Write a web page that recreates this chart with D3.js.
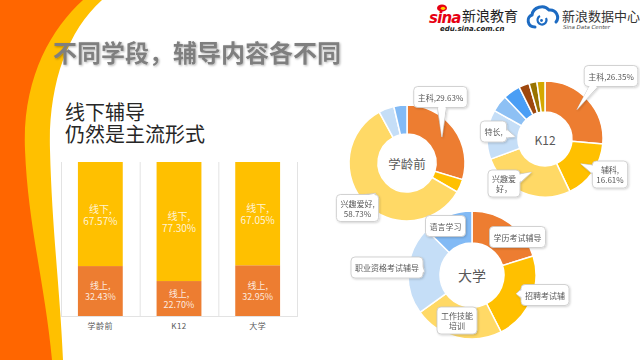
<!DOCTYPE html>
<html><head><meta charset="utf-8">
<script src="https://cdn.jsdelivr.net/npm/d3@7"></script>
<style>
html,body{margin:0;padding:0;background:#fff;}
svg{display:block;font-family:"Noto Sans CJK SC","Noto Sans",sans-serif;}
</style></head>
<body><svg id="c" width="640" height="360"></svg>
<script>
// ---------- data ----------
const barCategories = ['学龄前', 'K12', '大学'];
const seriesNames = ['线上', '线下'];
const onlineShare = [32.43, 22.70, 32.95];
const offlineShare = [67.57, 77.30, 67.05];

const preschoolValues = [29.63, 3.70, 58.73, 4.30, 3.64];
const preschoolLabels = ['主科,29.63%', '', '兴趣爱好,\n58.73%', '', ''];

const k12Values = [26.35, 16.61, 26.40, 13.80, 4.70, 4.80, 2.90, 2.20, 2.24];
const k12Labels = ['主科,26.35%', '辅科,\n16.61%', '兴趣爱\n好，', '特长,', '', '', '', '', ''];

const collegeValues = [20.2, 22.3, 22.6, 22.3, 12.6];
const collegeLabels = ['学历考试辅导', '招聘考试辅', '工作技能\n培训', '职业资格考试辅导', '语言学习'];

// ---------- styles ----------
const cOrange = '#ED7D31', cGold = '#FFC000', cLightY = '#FFD966';
const cVLBlue = '#C5DEF7', cLBlue = '#8DC0F4', cBlue = '#4A9EF5', cMBlue = '#82BAF5';
const preschoolColors = [cOrange, cGold, cLightY, cVLBlue, cMBlue];
const k12Colors = [cOrange, cGold, cLightY, cVLBlue, cLBlue, cBlue, '#9E480E', '#997300', '#D4A800'];
const collegeColors = [cOrange, cGold, cLightY, cVLBlue, cMBlue];

const svg = d3.select('#c');
const defs = svg.append('defs');
const flt = defs.append('filter').attr('id', 'sh').attr('x', '-30%').attr('y', '-30%').attr('width', '160%').attr('height', '170%');
flt.append('feDropShadow').attr('dx', 1).attr('dy', 1).attr('stdDeviation', 1).attr('flood-color', '#000').attr('flood-opacity', 0.18);
const tflt = defs.append('filter').attr('id', 'tsh').attr('x', '-5%').attr('y', '-20%').attr('width', '110%').attr('height', '150%');
tflt.append('feDropShadow').attr('dx', 1).attr('dy', 1).attr('stdDeviation', 0.8).attr('flood-color', '#000').attr('flood-opacity', 0.3);

// ---------- decoration ----------
svg.append('path').attr('d', 'M0,0 L102,0 C66,32 48,88 50,150 C52,230 60,290 63,360 L0,360 Z').attr('fill', '#FFC000');
svg.append('path').attr('d', 'M0,0 L83,0 C50,30 22,80 25,150 C28,225 45,285 52,360 L0,360 Z').attr('fill', '#FF6600');

// ---------- header logos ----------
const hd = svg.append('g');
hd.append('ellipse').attr('cx', 442).attr('cy', 8).attr('rx', 5).attr('ry', 3.6).attr('fill', '#E60012');
hd.append('ellipse').attr('cx', 443).attr('cy', 8.3).attr('rx', 2.2).attr('ry', 1.6).attr('fill', '#FFD200');
hd.append('text').attr('x', 429).attr('y', 23).attr('font-family', '"DejaVu Sans"').attr('font-weight', 'bold')
  .attr('font-style', 'italic').attr('font-size', 15).attr('fill', '#E60012').attr('letter-spacing', -0.8).text('sina');
hd.append('text').attr('x', 462).attr('y', 21).attr('font-size', 14).attr('fill', '#222').text('新浪教育');
hd.append('text').attr('x', 440).attr('y', 31).attr('font-family', '"DejaVu Sans"').attr('font-weight', 'bold')
  .attr('font-style', 'italic').attr('font-size', 7).attr('fill', '#222').text('edu.sina.com.cn');
hd.append('path').attr('d', 'M535,27 C527,27 526,17 532,15 C533,7 544,4 549,10 C556,9 560,17 556,22')
  .attr('fill', 'none').attr('stroke', '#1D6BC2').attr('stroke-width', 3).attr('stroke-linecap', 'round');
hd.append('path').attr('d', 'M546,18 A4.5,4.5 0 1 1 540,16').attr('fill', 'none').attr('stroke', '#1D6BC2').attr('stroke-width', 2.2);
hd.append('circle').attr('cx', 541.5).attr('cy', 20.5).attr('r', 1.4).attr('fill', '#1D6BC2');
hd.append('text').attr('x', 562).attr('y', 21).attr('font-size', 13).attr('fill', '#333').text('新浪数据中心');
hd.append('text').attr('x', 563).attr('y', 29).attr('font-family', '"DejaVu Sans"').attr('font-style', 'italic')
  .attr('font-size', 5.5).attr('fill', '#444').text('Sina Data Center');

// ---------- titles ----------
svg.append('text').attr('x', 53).attr('y', 51).attr('dominant-baseline', 'central').attr('font-size', 24)
  .attr('font-weight', 'bold').attr('fill', '#7F7F7F').attr('filter', 'url(#tsh)').text('不同学段，辅导内容各不同');
const sub = svg.append('text').attr('font-size', 20).attr('fill', '#262626');
sub.append('tspan').attr('x', 65).attr('y', 111).attr('dominant-baseline', 'central').text('线下辅导');
sub.append('tspan').attr('x', 65).attr('y', 133.5).attr('dominant-baseline', 'central').text('仍然是主流形式');

// ---------- bar chart ----------
const plot = { left: 61, right: 297, top: 162, bottom: 316 };
const x = d3.scaleBand().domain(barCategories).range([plot.left, plot.right]).padding(0);
const y = d3.scaleLinear().domain([0, 100]).range([plot.bottom, plot.top]);
const barW = x.bandwidth() * 0.57;
const rows = barCategories.map((c, i) => ({ cat: c, online: onlineShare[i], offline: offlineShare[i] }));
const stacked = d3.stack().keys(['online', 'offline'])(rows);
const barColors = [cOrange, cGold];

const grid = svg.append('g').attr('stroke', '#E3E3E3').attr('stroke-width', 1);
const xEdges = barCategories.map(c => x(c)).concat([plot.right]);
xEdges.forEach(v => grid.append('line').attr('x1', v + 0.5).attr('x2', v + 0.5).attr('y1', plot.top).attr('y2', plot.bottom));
grid.append('line').attr('x1', plot.left).attr('x2', plot.right + 1).attr('y1', plot.bottom + 0.5).attr('y2', plot.bottom + 0.5);

const layers = svg.append('g').selectAll('g').data(stacked).join('g').attr('fill', (d, i) => barColors[i]);
layers.selectAll('rect').data(d => d).join('rect')
  .attr('x', d => x(d.data.cat) + (x.bandwidth() - barW) / 2)
  .attr('width', barW)
  .attr('y', d => y(d[1]))
  .attr('height', d => y(d[0]) - y(d[1]));

stacked.forEach((layer, li) => {
  const fs = li === 0 ? 9 : 10, lh = li === 0 ? 11 : 12;
  layer.forEach(d => {
    const cx = x(d.data.cat) + x.bandwidth() / 2;
    const cy = (y(d[0]) + y(d[1])) / 2;
    const t = svg.append('text').attr('text-anchor', 'middle').attr('font-size', fs).attr('fill', '#fff').attr('fill-opacity', 0.85);
    t.append('tspan').attr('x', cx).attr('y', cy - lh / 2).attr('dominant-baseline', 'central').text(seriesNames[li] + ',');
    t.append('tspan').attr('x', cx).attr('y', cy + lh / 2).attr('dominant-baseline', 'central').text((li === 0 ? d.data.online : d.data.offline).toFixed(2) + '%');
  });
});

const xAxis = svg.append('g').attr('transform', `translate(0,${plot.bottom})`).call(d3.axisBottom(x).tickSize(0).tickPadding(7));
xAxis.select('.domain').remove();
xAxis.selectAll('text').attr('font-size', 8).attr('fill', '#595959').attr('font-family', '"Noto Sans CJK SC",sans-serif').attr('letter-spacing', 0.5);

// ---------- donuts ----------
function donut(cfg) {
  const g = svg.append('g').attr('transform', `translate(${cfg.cx},${cfg.cy})`);
  const pie = d3.pie().sort(null).value(d => d)(cfg.values);
  const arc = d3.arc().innerRadius(cfg.rIn).outerRadius(cfg.rOut);
  g.selectAll('path.seg').data(pie).join('path').attr('class', 'seg').attr('d', arc)
    .attr('fill', (d, i) => cfg.colors[i]).attr('stroke', '#fff').attr('stroke-width', 1.5);
  g.append('text').attr('text-anchor', 'middle').attr('dominant-baseline', 'central')
    .attr('font-size', cfg.titleSize).attr('fill', '#595959').text(cfg.title);

  cfg.callouts.forEach(co => {
    const d = pie[co.i];
    const lines = cfg.labels[co.i].split('\n');
    const a = (d.startAngle + d.endAngle) / 2;
    const tx = Math.sin(a) * co.r, ty = -Math.cos(a) * co.r;
    const cg = g.append('g').attr('filter', 'url(#sh)');
    const txt = cg.append('text').attr('text-anchor', 'middle').attr('font-size', 8).attr('fill', '#595959');
    const lh = 10;
    lines.forEach((l, k) => txt.append('tspan').attr('x', co.bx).attr('y', co.by + (k - (lines.length - 1) / 2) * lh)
      .attr('dominant-baseline', 'central').text(l));
    let tw = 0;
    txt.selectAll('tspan').each(function () { tw = Math.max(tw, this.getComputedTextLength()); });
    const bw = co.w || (tw + 8), bh = Math.max(21, lines.length * lh + 7);
    const bx = co.bx - bw / 2, by = co.by - bh / 2;
    const inside = tx > bx && tx < bx + bw && ty > by && ty < by + bh;
    let tri = null, cover = null;
    if (!inside) {
      const bwid = 9;
      if (ty > by + bh || ty < by) {
        const ey = ty > by + bh ? by + bh : by, inset = ty > by + bh ? -1.2 : 1.2;
        const x0 = Math.max(bx + 5, Math.min(bx + bw - 5 - bwid, tx - bwid / 2));
        tri = [[x0, ey], [tx, ty], [x0 + bwid, ey]];
        cover = [[x0 + 0.7, ey + inset], [tx, ty], [x0 + bwid - 0.7, ey + inset]];
      } else {
        const ex = tx > bx + bw ? bx + bw : bx, inset = tx > bx + bw ? -1.2 : 1.2;
        const y0 = Math.max(by + 4, Math.min(by + bh - 4 - bwid, ty - bwid / 2));
        tri = [[ex, y0], [tx, ty], [ex, y0 + bwid]];
        cover = [[ex + inset, y0 + 0.7], [tx, ty], [ex + inset, y0 + bwid - 0.7]];
      }
    }
    if (tri) cg.insert('polygon', 'text').attr('points', tri.join(' ')).attr('fill', '#fff').attr('stroke', '#C8C8C8').attr('stroke-width', 0.8);
    cg.insert('rect', 'text').attr('x', bx).attr('y', by).attr('width', bw).attr('height', bh).attr('rx', 4)
      .attr('fill', '#fff').attr('stroke', '#C8C8C8').attr('stroke-width', 0.8);
    if (cover) cg.insert('polygon', 'text').attr('points', cover.join(' ')).attr('fill', '#fff');
    if (co.clip) {
      const id = 'clip' + cfg.title + co.i;
      defs.append('clipPath').attr('id', id).append('rect').attr('x', cfg.cx + bx + 2).attr('y', cfg.cy + by).attr('width', bw - 4).attr('height', bh);
    }
  });
}

donut({ cx: 407, cy: 163, rIn: 29, rOut: 58, title: '学龄前', titleSize: 12.5,
  values: preschoolValues, labels: preschoolLabels, colors: preschoolColors,
  callouts: [{ i: 0, bx: 33.5, by: -66, r: 43.5 }, { i: 2, bx: -49.5, by: 45, r: 43.5 }] });

donut({ cx: 545, cy: 139, rIn: 27, rOut: 58, title: 'K12', titleSize: 12,
  values: k12Values, labels: k12Labels, colors: k12Colors,
  callouts: [{ i: 0, bx: 66, by: -63, r: 43.5 }, { i: 1, bx: 65, by: 35.5, r: 43.5 },
             { i: 3, bx: -51.5, by: -7.5, r: 30 }, { i: 2, bx: -41, by: 44.5, r: 36 }] });

donut({ cx: 472, cy: 275, rIn: 32, rOut: 64, title: '大学', titleSize: 14,
  values: collegeValues, labels: collegeLabels, colors: collegeColors,
  callouts: [{ i: 0, bx: 45.5, by: -38, r: 48 }, { i: 1, bx: 73, by: 20, r: 48 },
             { i: 2, bx: -15, by: 45.5, r: 48 }, { i: 3, bx: -85, by: -7.5, r: 48 },
             { i: 4, bx: -26.5, by: -49, r: 48 }] });
</script>
</body></html>
